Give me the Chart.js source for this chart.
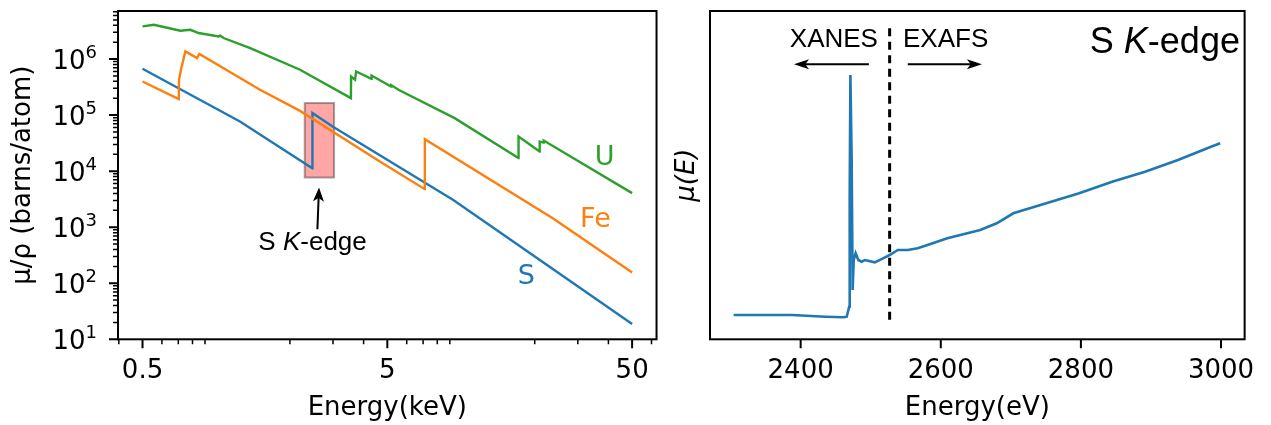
<!DOCTYPE html>
<html>
<head>
<meta charset="utf-8">
<script src="https://cdn.jsdelivr.net/npm/chart.js@4.4.0/dist/chart.umd.min.js"></script>
<style>
  body { margin: 0; background: #fff; }
  #wrap { position: relative; width: 1271px; height: 425px; }
  canvas { position: absolute; top: 0; }
</style>
</head>
<body>
<div id="wrap">
  <canvas id="attenChart" width="665" height="425" style="left:0px"></canvas>
  <canvas id="xasChart" width="611" height="425" style="left:660px"></canvas>
</div>
<script>
// ---- Left panel: mu/rho (barns/atom) vs energy (keV), log-log ----
const sEnergy = [0.5, 1.25, 2.47, 2.472, 3.0, 9.3, 50];
const sMu = [6.7e5, 7.7e4, 1.13e4, 1.09e5, 6.2e4, 3.07e3, 18.8];

const feEnergy = [0.5, 0.703, 0.705, 0.7175, 0.748, 0.835, 0.853, 1.51, 2.2, 4.66, 7.11, 7.115, 23.7, 50];
const feMu = [3.98e5, 1.93e5, 4.27e5, 6.44e5, 1.37e6, 1.04e6, 1.23e6, 2.83e5, 1.19e5, 1.48e4, 4.77e3, 3.73e4, 1.45e3, 155];

const uEnergy = [0.5, 0.556, 0.714, 0.784, 0.848, 1.023, 1.039, 1.072, 1.377, 2.2, 3.55, 3.555, 3.69, 3.73,
                 4.30, 4.31, 5.18, 5.19, 5.55, 9.42, 17.17, 17.18, 20.95, 20.96, 21.7, 21.77, 50];
const uMu = [3.82e6, 4.1e6, 3.2e6, 3.33e6, 2.91e6, 2.53e6, 2.61e6, 2.37e6, 1.57e6, 6.44e5, 2.01e5, 4.89e5, 4.27e5, 6.01e5,
             4.45e5, 5.09e5, 3.24e5, 3.43e5, 2.83e5, 8.83e4, 1.71e4, 4.15e4, 2.24e4, 3.38e4, 3.24e4, 3.52e4, 4.05e3];

const keVMajor = [0.5, 5, 50];
const keVLabels = ['0.5', '5', '50'];
const keVMinor = [0.4, 0.6, 0.7, 0.8, 0.9, 2, 3, 4, 6, 7, 8, 9, 20, 30, 40, 60];
const muMajor = [1e1, 1e2, 1e3, 1e4, 1e5, 1e6];
const muExponents = ['1', '2', '3', '4', '5', '6'];

// ---- Right panel: S K-edge spectrum mu(E) vs energy (eV) ----
const xasEnergy = [2304.4, 2388, 2435.3, 2461, 2465.8, 2469.2, 2470, 2471, 2472.8, 2474.2, 2475.7, 2478.5, 2482.3,
                   2487, 2491.7, 2505.8, 2517.6, 2527, 2538.7, 2552.9, 2567, 2581, 2609.3, 2656.3, 2679.9, 2703.5,
                   2750.5, 2797.5, 2844.6, 2891.6, 2938.6, 2985.7, 2998.9];
const xasMu = [0.243, 0.243, 0.226, 0.22, 0.226, 0.326, 1.46, 2.643, 1.793, 0.493, 0.793, 0.86, 0.793,
               0.776, 0.793, 0.77, 0.81, 0.843, 0.893, 0.893, 0.91, 0.943, 1.01, 1.093, 1.16, 1.26,
               1.36, 1.46, 1.576, 1.676, 1.793, 1.926, 1.96];
const eVTicks = [2400, 2600, 2800, 3000];

const blue = '#1f77b4', orange = '#ff7f0e', green = '#2ca02c';
const tickFont = { family: 'DejaVu Sans', size: 26 };
const annoFont = 'Liberation Sans, Arial, sans-serif';

const pts = (xs, ys) => xs.map((x, i) => ({ x: x, y: ys[i] }));

// minor ticks on the log y axis: 2..9 x each decade
const muMinor = [];
muMajor.forEach(d => { for (let k = 2; k <= 9; k++) if (k * d < 7.2e6) muMinor.push(k * d); });

// Draw frame, tick marks and (optionally) power-of-ten y labels
const framePlugin = {
    id: 'frame',
    afterDraw(chart, args, opts) {
        const { ctx, chartArea: a, scales: { x, y } } = chart;
        ctx.save();
        ctx.strokeStyle = '#000';
        ctx.lineWidth = 2;
        ctx.beginPath();
        (opts.xMajor || []).forEach(v => { const p = x.getPixelForValue(v); ctx.moveTo(p, a.bottom); ctx.lineTo(p, a.bottom + 9); });
        (opts.yMajor || []).forEach(v => { const p = y.getPixelForValue(v); ctx.moveTo(a.left, p); ctx.lineTo(a.left - 9, p); });
        ctx.stroke();
        ctx.lineWidth = 1.5;
        ctx.beginPath();
        (opts.xMinor || []).forEach(v => { const p = x.getPixelForValue(v); ctx.moveTo(p, a.bottom); ctx.lineTo(p, a.bottom + 5); });
        (opts.yMinor || []).forEach(v => { const p = y.getPixelForValue(v); ctx.moveTo(a.left, p); ctx.lineTo(a.left - 5, p); });
        ctx.stroke();
        ctx.lineWidth = 2;
        ctx.strokeRect(a.left, a.top, a.right - a.left, a.bottom - a.top);

        // 10^n labels with a real superscript
        if (opts.yExp) {
            ctx.fillStyle = '#000';
            ctx.textAlign = 'right';
            ctx.textBaseline = 'alphabetic';
            const right = a.left - 21;
            opts.yMajor.forEach((v, i) => {
                const p = y.getPixelForValue(v);
                ctx.font = '18px DejaVu Sans';
                const ew = ctx.measureText(opts.yExp[i]).width;
                ctx.fillText(opts.yExp[i], right, p - 1);
                ctx.font = '26px DejaVu Sans';
                ctx.fillText('10', right - ew, p + 10);
            });
        }
        ctx.restore();
    }
};

function arrow(ctx, x1, y1, x2, y2, len, half) {
    const ang = Math.atan2(y2 - y1, x2 - x1);
    ctx.beginPath();
    ctx.moveTo(x1, y1);
    ctx.lineTo(x2 - Math.cos(ang) * len * 0.7, y2 - Math.sin(ang) * len * 0.7);
    ctx.stroke();
    ctx.save();
    ctx.translate(x2, y2);
    ctx.rotate(ang);
    ctx.beginPath();
    ctx.moveTo(0, 0);
    ctx.lineTo(-len, -half);
    ctx.lineTo(-len * 0.75, 0);
    ctx.lineTo(-len, half);
    ctx.closePath();
    ctx.fill();
    ctx.restore();
}

// "S K-edge" with italic K
function edgeLabel(ctx, x, y, size, align) {
    const parts = [['S ', 'normal'], ['K', 'italic'], ['-edge', 'normal']];
    let w = 0;
    parts.forEach(p => { ctx.font = p[1] + ' ' + size + 'px ' + annoFont; w += ctx.measureText(p[0]).width; });
    let cx = align === 'right' ? x - w : x - w / 2;
    ctx.textAlign = 'left';
    ctx.textBaseline = 'alphabetic';
    parts.forEach(p => {
        ctx.font = p[1] + ' ' + size + 'px ' + annoFont;
        ctx.fillText(p[0], cx, y);
        cx += ctx.measureText(p[0]).width;
    });
}

// Left panel annotations (data coordinates)
const boxE = [2.3, 3.03], boxMu = [7.7e3, 1.64e5];
const arrowTail = [2.59, 920], arrowTip = [2.63, 5.1e3];
const edgeTextPos = [2.475, 394];
const seriesLabels = [
    { text: 'U', color: green, at: [38.6, 1.296e4] },
    { text: 'Fe', color: orange, at: [35.4, 1026] },
    { text: 'S', color: blue, at: [18.5, 97.2] }
];

const attenAnno = {
    id: 'attenAnno',
    beforeDatasetsDraw(chart) {
        const { ctx, scales: { x, y } } = chart;
        const x0 = x.getPixelForValue(boxE[0]), x1 = x.getPixelForValue(boxE[1]);
        const y0 = y.getPixelForValue(boxMu[1]), y1 = y.getPixelForValue(boxMu[0]);
        ctx.save();
        ctx.fillStyle = 'rgba(255,0,0,0.35)';
        ctx.fillRect(x0, y0, x1 - x0, y1 - y0);
        ctx.strokeStyle = 'rgba(0,0,0,0.35)';
        ctx.lineWidth = 2;
        ctx.strokeRect(x0, y0, x1 - x0, y1 - y0);
        ctx.restore();
    },
    afterDatasetsDraw(chart) {
        const { ctx, scales: { x, y } } = chart;
        ctx.save();
        ctx.strokeStyle = '#000';
        ctx.fillStyle = '#000';
        ctx.lineWidth = 2;
        arrow(ctx, x.getPixelForValue(arrowTail[0]), y.getPixelForValue(arrowTail[1]),
              x.getPixelForValue(arrowTip[0]), y.getPixelForValue(arrowTip[1]), 14, 5.5);
        edgeLabel(ctx, x.getPixelForValue(edgeTextPos[0]), y.getPixelForValue(edgeTextPos[1]), 26, 'center');
        ctx.font = '27px DejaVu Sans';
        ctx.textAlign = 'center';
        ctx.textBaseline = 'alphabetic';
        seriesLabels.forEach(l => {
            ctx.fillStyle = l.color;
            ctx.fillText(l.text, x.getPixelForValue(l.at[0]), y.getPixelForValue(l.at[1]));
        });
        ctx.restore();
    }
};

// Right panel annotations (data coordinates)
const dashE = 2527, dashRange = [0.14, 3.11];
const regionText = [{ text: 'XANES', at: [2447.4, 2.92] }, { text: 'EXAFS', at: [2606.9, 2.92] }];
const regionArrows = [[2497.4, 2390.5], [2552.9, 2658.7]];
const regionArrowMu = 2.75;
const titlePos = [3027, 2.86];

const xasAnno = {
    id: 'xasAnno',
    afterDatasetsDraw(chart) {
        const { ctx, scales: { x, y } } = chart;
        ctx.save();
        ctx.strokeStyle = '#000';
        ctx.fillStyle = '#000';
        ctx.lineWidth = 3;
        ctx.setLineDash([8, 5.5]);
        ctx.beginPath();
        ctx.moveTo(x.getPixelForValue(dashE), y.getPixelForValue(dashRange[1]));
        ctx.lineTo(x.getPixelForValue(dashE), y.getPixelForValue(dashRange[0]));
        ctx.stroke();
        ctx.setLineDash([]);
        ctx.lineWidth = 2;
        regionArrows.forEach(r => {
            const py = y.getPixelForValue(regionArrowMu);
            arrow(ctx, x.getPixelForValue(r[0]), py, x.getPixelForValue(r[1]), py, 15, 5);
        });
        ctx.font = '26px ' + annoFont;
        ctx.textAlign = 'center';
        ctx.textBaseline = 'alphabetic';
        regionText.forEach(t => ctx.fillText(t.text, x.getPixelForValue(t.at[0]), y.getPixelForValue(t.at[1])));
        edgeLabel(ctx, x.getPixelForValue(titlePos[0]), y.getPixelForValue(titlePos[1]), 36, 'right');
        ctx.restore();
    }
};

const baseOptions = {
    responsive: false,
    animation: false,
    devicePixelRatio: 1,
    plugins: { legend: { display: false }, tooltip: { enabled: false } },
    elements: { point: { radius: 0 }, line: { tension: 0, borderWidth: 2.4 } }
};

const attenChart = new Chart(document.getElementById('attenChart'), {
    type: 'line',
    data: {
        datasets: [
            { label: 'U', data: pts(uEnergy, uMu), borderColor: green },
            { label: 'Fe', data: pts(feEnergy, feMu), borderColor: orange },
            { label: 'S', data: pts(sEnergy, sMu), borderColor: blue }
        ]
    },
    options: {
        ...baseOptions,
        layout: { padding: { top: 11, right: 7.3, left: 0, bottom: 0 } },
        plugins: {
            ...baseOptions.plugins,
            frame: { xMajor: keVMajor, xMinor: keVMinor, yMajor: muMajor, yMinor: muMinor, yExp: muExponents }
        },
        scales: {
            x: {
                type: 'logarithmic', min: 0.397, max: 62.9, bounds: 'data',
                grid: { display: false, drawTicks: false }, border: { display: false },
                afterBuildTicks: s => { s.ticks = keVMajor.map(v => ({ value: v })); },
                afterFit: s => { s.height = 85.7; },
                ticks: { autoSkip: false, maxRotation: 0, padding: 16, color: '#000', font: tickFont,
                         callback: (v, i) => keVLabels[i] },
                title: { display: true, text: 'Energy(keV)', color: '#000', font: tickFont, padding: { top: 0, bottom: 1 } }
            },
            y: {
                type: 'logarithmic', min: 10, max: 7.2e6, bounds: 'data',
                grid: { display: false, drawTicks: false }, border: { display: false },
                afterFit: s => { s.width = 118; },
                ticks: { display: false },
                title: { display: true, text: 'μ/ρ (barns/atom)', color: '#000', font: tickFont, padding: { top: 8, bottom: 0 } }
            }
        }
    },
    plugins: [framePlugin, attenAnno]
});

const xasChart = new Chart(document.getElementById('xasChart'), {
    type: 'line',
    data: {
        datasets: [
            { label: 'S K-edge', data: pts(xasEnergy, xasMu), borderColor: blue, borderWidth: 2.6 }
        ]
    },
    options: {
        ...baseOptions,
        layout: { padding: { top: 11, right: 20.3, left: 0, bottom: 0 } },
        plugins: {
            ...baseOptions.plugins,
            frame: { xMajor: eVTicks }
        },
        scales: {
            x: {
                type: 'linear', min: 2270.6, max: 3033.7,
                grid: { display: false, drawTicks: false }, border: { display: false },
                afterBuildTicks: s => { s.ticks = eVTicks.map(v => ({ value: v })); },
                afterFit: s => { s.height = 85.7; },
                ticks: { autoSkip: false, maxRotation: 0, padding: 16, color: '#000', font: tickFont,
                         callback: v => String(v) },
                title: { display: true, text: 'Energy(eV)', color: '#000', font: tickFont, padding: { top: 0, bottom: 1 } }
            },
            y: {
                type: 'linear', min: 0, max: 3.283,
                grid: { display: false, drawTicks: false }, border: { display: false },
                afterFit: s => { s.width = 50; },
                ticks: { display: false },
                title: { display: true, text: 'μ(E)', color: '#000',
                         font: { family: 'DejaVu Sans', size: 26, style: 'italic' }, padding: { top: 12, bottom: 0 } }
            }
        }
    },
    plugins: [framePlugin, xasAnno]
});
</script>
</body>
</html>
